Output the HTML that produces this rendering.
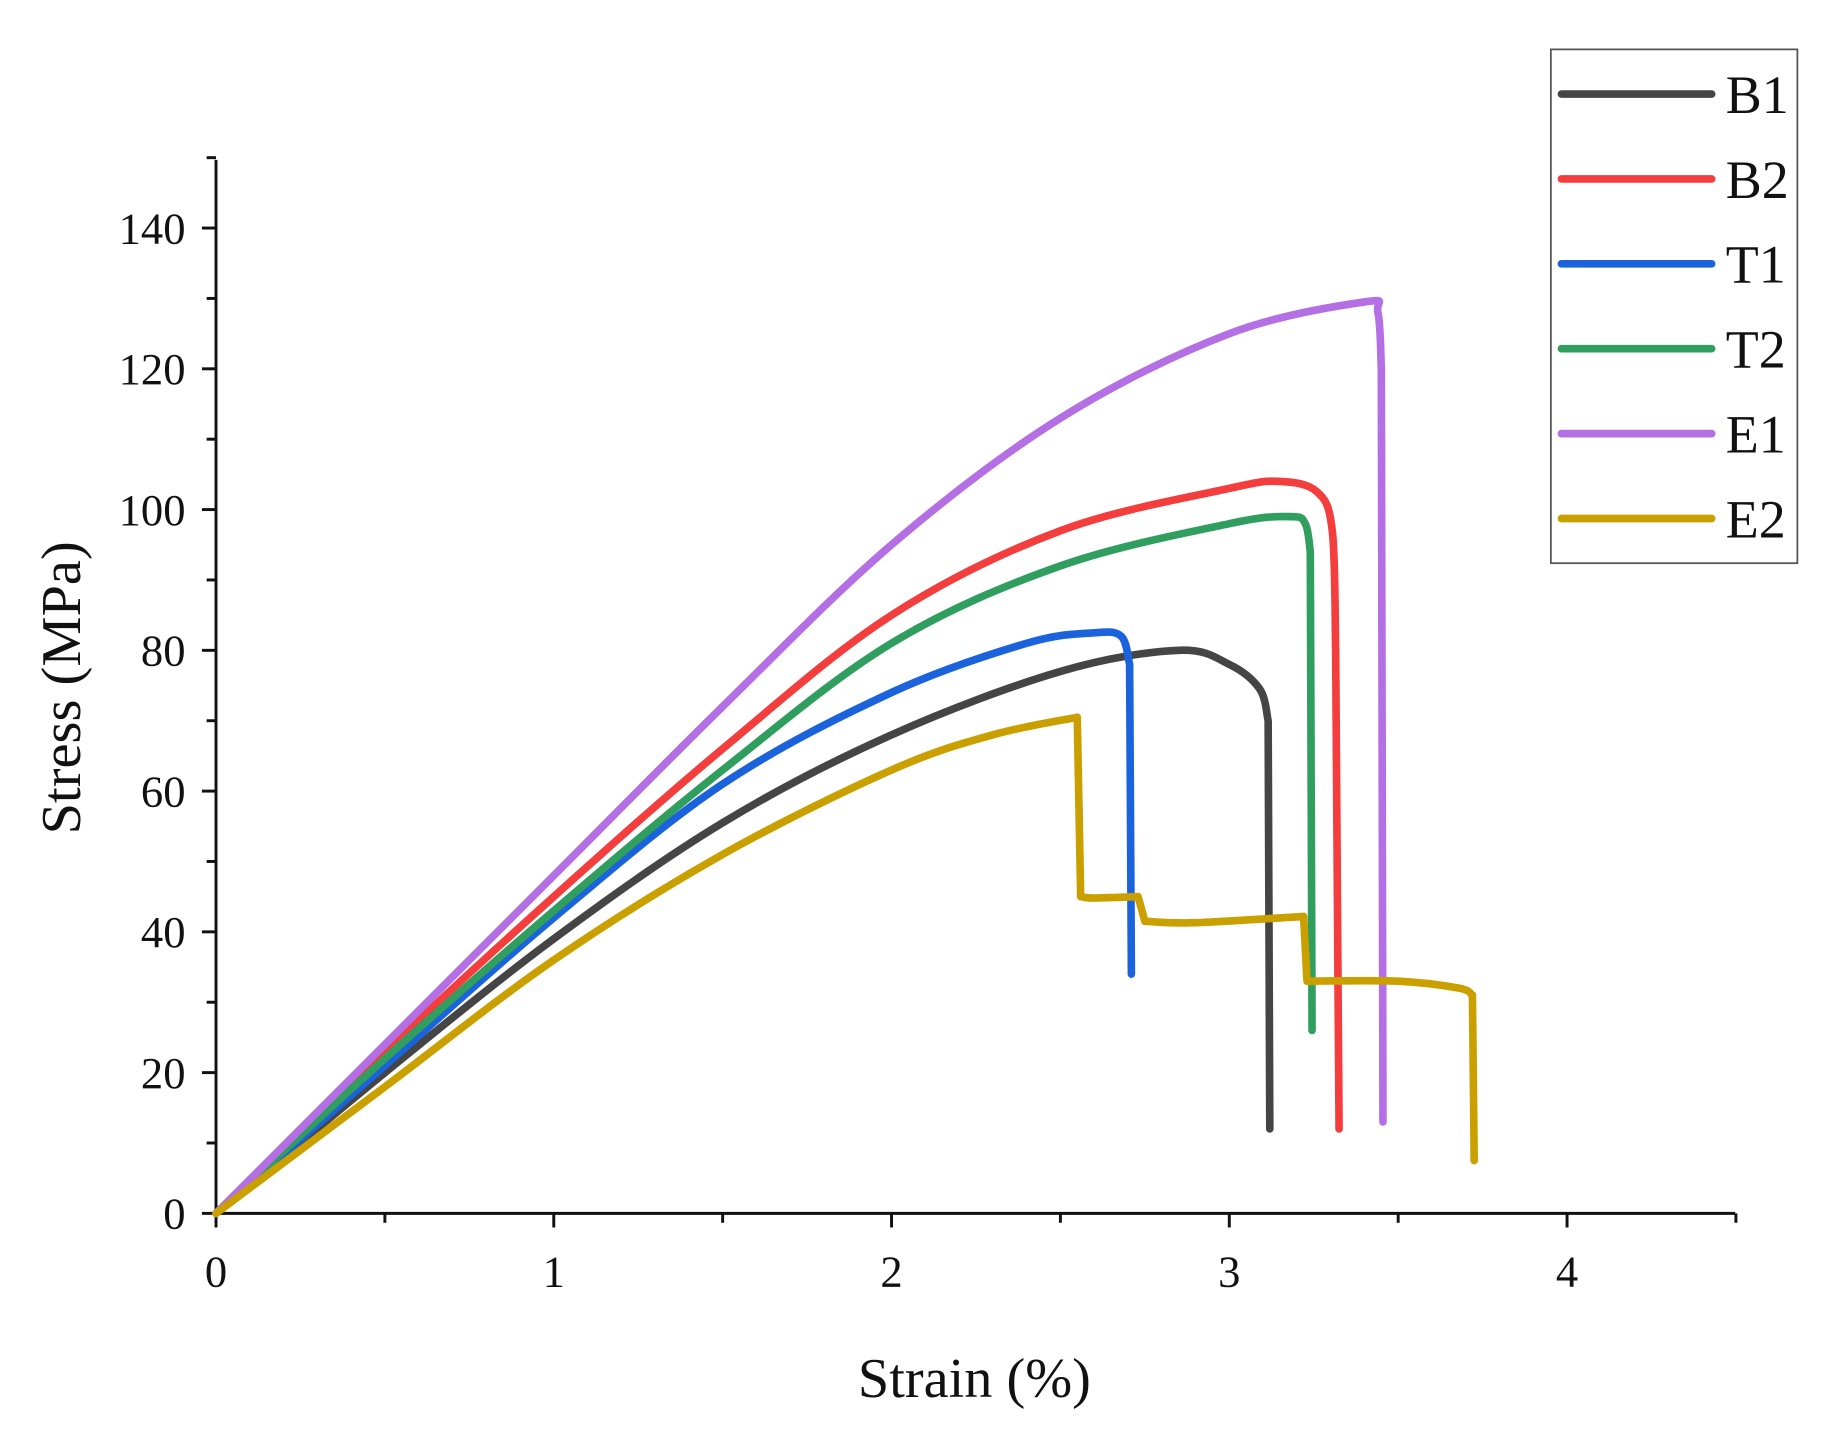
<!DOCTYPE html>
<html><head><meta charset="utf-8"><style>
html,body{margin:0;padding:0;background:#fff;}
svg{display:block;}
text{font-family:"Liberation Serif",serif;fill:#111;}
</style></head><body>
<svg id="s" width="1842" height="1445" viewBox="0 0 1569 1229" preserveAspectRatio="none" xmlns="http://www.w3.org/2000/svg">
<rect width="1569" height="1229" fill="#fff"/>
<g id="axes" stroke="#111" stroke-width="2.5" fill="none"></g>
<g id="labels" font-size="38"></g>
<g id="curves" fill="none" stroke-width="6.5" stroke-linejoin="round" stroke-linecap="round"></g>
<text x="830" y="1188" font-size="48" text-anchor="middle">Strain (%)</text>
<text transform="translate(68,585) rotate(-90)" font-size="48" text-anchor="middle">Stress (MPa)</text>
<rect x="1321" y="42" width="210" height="437" fill="#fff" stroke="#555" stroke-width="1.5"/>
<g id="legend" stroke-width="6.5" stroke-linecap="round"></g>
</svg>
<script>
var NS="http://www.w3.org/2000/svg";
function X(s){return 184+287.7*s;}function Y(v){return 1032-5.986*v;}
function el(p,t,a,txt){var e=document.createElementNS(NS,t);for(var k in a)e.setAttribute(k,a[k]);if(txt!==undefined)e.textContent=txt;document.getElementById(p).appendChild(e);}
el("axes","path",{d:"M184 136 V1032 H1478"});
for(var i=0;i<=9;i++){var x=X(i*0.5);el("axes","line",{x1:x,y1:1032,x2:x,y2:i%2?1040:1044});
 if(i%2==0&&i<9)el("labels","text",{x:x,y:1094,"text-anchor":"middle"},i/2);}
for(var v=0;v<=150;v+=10){var y=Y(v);el("axes","line",{x1:184,y1:y,x2:v%20?176:172,y2:y});
 if(v%20==0)el("labels","text",{x:158,y:y+13,"text-anchor":"end"},v);}
function cr(pts){var P=pts.map(function(p){return [X(p[0]),Y(p[1])];});var d="";
 for(var i=0;i<P.length-1;i++){var p0=P[i-1]||P[i],p1=P[i],p2=P[i+1],p3=P[i+2]||P[i+1];
  var c1=[p1[0]+(p2[0]-p0[0])/6,p1[1]+(p2[1]-p0[1])/6],c2=[p2[0]-(p3[0]-p1[0])/6,p2[1]-(p3[1]-p1[1])/6];
  d+=" C"+c1[0].toFixed(1)+" "+c1[1].toFixed(1)+" "+c2[0].toFixed(1)+" "+c2[1].toFixed(1)+" "+p2[0].toFixed(1)+" "+p2[1].toFixed(1);}
 return d;}
function path(segs){var d="";segs.forEach(function(s,i){var p=s[0];d+=(i?" L":"M")+X(p[0]).toFixed(1)+" "+Y(p[1]).toFixed(1);if(s.length>1)d+=cr(s);});return d;}
var C=[
["B1","#454545",[[[0,0],[0.5,20],[1,39],[1.5,55.5],[2,68],[2.5,77],[2.85,80],[3.0,78],[3.09,74.5],[3.115,70]],[[3.12,12]]]],
["B2","#f43d3d",[[[0,0],[0.5,23],[1,45],[1.5,66],[2,85],[2.5,97],[3,103],[3.15,104],[3.26,102.5],[3.305,97],[3.315,80]],[[3.325,12]]]],
["T1","#1b63dc",[[[0,0],[0.5,21],[1,42],[1.5,61],[2,74],[2.4,81],[2.6,82.5],[2.68,82],[2.705,78]],[[2.71,34]]]],
["T2","#2f9e5f",[[[0,0],[0.5,22],[1,43],[1.5,63],[2,81],[2.5,92],[3,98],[3.18,99],[3.225,98],[3.24,94]],[[3.245,26]]]],
["E1","#b36fe3",[[[0,0],[0.5,24],[1,48],[1.5,72],[2,95],[2.5,113],[3,125],[3.4,129.5],[3.44,128],[3.45,120]],[[3.455,13]]]],
["E2","#caa000",[[[0,0],[0.5,18],[1,36],[1.5,51],[2,63],[2.3,68],[2.55,70.5]],[[2.56,45],[2.6,44.8],[2.73,45]],[[2.75,41.5],[2.9,41.3],[3.22,42.2]],[[3.23,33],[3.5,33],[3.68,32],[3.72,31]],[[3.725,7.5]]]]];
C.forEach(function(c,i){el("curves","path",{d:path(c[2]),stroke:c[1]});
 var ly=80+i*72.2;el("legend","line",{x1:1330,y1:ly,x2:1458,y2:ly,stroke:c[1]});
 el("legend","text",{x:1470,y:ly+16,"font-size":"46",stroke:"none"},c[0]);});
</script>
</body></html>
